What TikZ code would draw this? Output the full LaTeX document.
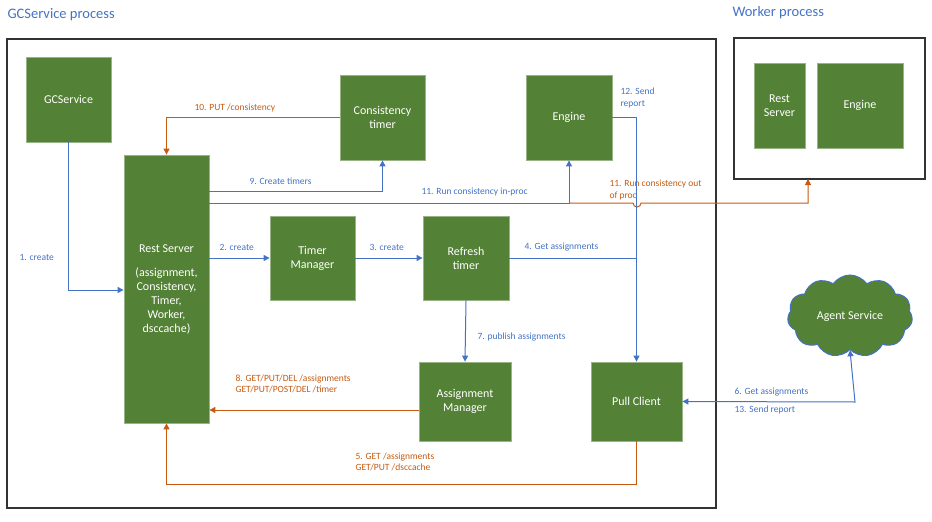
\documentclass[tikz,border=0pt]{standalone}
\usepackage{fontspec}
\setmainfont{Carlito}
\usetikzlibrary{shapes.symbols,arrows.meta}
\definecolor{gr}{HTML}{538135}
\definecolor{bl}{HTML}{4472C4}
\definecolor{orr}{HTML}{C55A11}
\definecolor{tt}{HTML}{4472C4}
\begin{document}
\begin{tikzpicture}[x=1pt,y=-1pt,
 box/.style={fill=gr,draw=gr!60!white,line width=0.8pt,text=white,align=center,font=\fontsize{12}{14}\selectfont},
 lb/.style={font=\fontsize{9.5}{11.5}\selectfont,align=left,anchor=west},
 bla/.style={draw=bl,line width=1pt,-{Triangle[length=6pt,width=6pt]}},
 ora/.style={draw=orr,line width=1pt,-{Triangle[length=6pt,width=6pt]}},
 frame/.style={draw=black!80,line width=1.2pt}]
\useasboundingbox (0,0) rectangle (932,522);
\node[font=\fontsize{14.5}{16}\selectfont,text=tt,anchor=west] (t1) at (4,15) {GCService process};
\node[font=\fontsize{14.5}{16}\selectfont,text=tt,anchor=west] (t2) at (729,13) {Worker process};
\draw[frame] (7,39) rectangle (716,508);
\draw[frame] (734,38) rectangle (925,179);
\coordinate (wb) at (808,179);
\newcommand{\bx}[6]{\node[box,minimum width=#4,minimum height=#5] (#1) at (#2,#3) {#6};}
\bx{gcs}{68.5}{99.5}{85pt}{85pt}{GCService}
\bx{ct}{382.5}{117.5}{85pt}{85pt}{Consistency\\timer}
\bx{eng}{569}{117.5}{86pt}{85pt}{Engine}
\bx{rs}{166.5}{289}{85pt}{268pt}{Rest Server\\[10pt](assignment,\\Consistency,\\Timer,\\Worker,\\dsccache)}
\bx{tm}{312.5}{258}{85pt}{84pt}{Timer\\Manager}
\bx{rt}{466}{258}{86pt}{84pt}{Refresh\\timer}
\bx{am}{465}{401.5}{92pt}{79pt}{Assignment\\Manager}
\bx{pc}{636.5}{401.5}{91pt}{79pt}{Pull Client}
\bx{wrs}{779.5}{105.5}{51pt}{85pt}{Rest\\Server}
\bx{weng}{860}{105.5}{86pt}{85pt}{Engine}
\node[cloud,cloud puffs=11,cloud puff arc=110,aspect=1.6,fill=gr,draw=bl,line width=1pt,text=white,minimum width=125pt,minimum height=82pt,font=\fontsize{12}{14}\selectfont] (as) at (850,316) {Agent Service};
% 1
\draw[bla] (gcs.south) |- (rs.west|-0,290);
\node[lb,text=bl] (l1) at (16,257) {1. create};
% 10
\draw[ora] (ct.west) -| (rs.north);
\node[lb,text=orr] (l10) at (191,108) {10. PUT /consistency};
% 9
\draw[bla] (rs.east|-0,191) -| (ct.south);
\node[lb,text=bl] (l9) at (246,181) {9. Create timers};
% 11 in-proc
\draw[bla] (rs.east|-0,203) -| (eng.south);
\node[lb,text=bl] (l11) at (418,192) {11. Run consistency in-proc};
% 11 out of proc
\draw[ora] (569,203) -- (633,203) arc[start angle=180,end angle=0,radius=4] -- (808,203) -- (wb);
\node[lb,text=orr] (l11b) at (606,190) {11. Run consistency out\\of proc};
% 12
\draw[bla] (eng.east) -| (pc.north);
\node[lb,text=bl] (l12) at (617,98) {12. Send\\report};
% 2,3,4
\draw[bla] (rs.east|-tm.west) -- (tm.west);
\node[lb,text=bl] (l2) at (216,247) {2. create};
\draw[bla] (tm.east) -- (rt.west);
\node[lb,text=bl] (l3) at (366,247) {3. create};
\draw[draw=bl,line width=1pt] (rt.east) -- (637,258);
\node[lb,text=bl] (l4) at (521,247) {4. Get assignments};
% 7
\draw[bla] (rt.south) -- (am.north);
\node[lb,text=bl] (l7) at (474,337) {7. publish assignments};
% 8
\draw[ora] (am.west|-0,410) -- (rs.east|-0,410);
\node[lb,text=orr] (l8) at (232,384) {8. GET/PUT/DEL /assignments\\GET/PUT/POST/DEL /timer};
% 5
\draw[ora] (pc.south) -- (636.5,484) -| (rs.south);
\node[lb,text=orr] (l5) at (352,462) {5. GET /assignments\\GET/PUT /dsccache};
% 6/13
\draw[draw=bl,line width=1pt,{Triangle[length=6pt,width=6pt]}-{Triangle[length=6pt,width=6pt]}] (pc.east) -- (855,402) -- (as.south);
\node[lb,text=bl] (l6) at (731,392) {6. Get assignments};
\node[lb,text=bl] (l13) at (731,410) {13. Send report};
\end{tikzpicture}
\end{document}
